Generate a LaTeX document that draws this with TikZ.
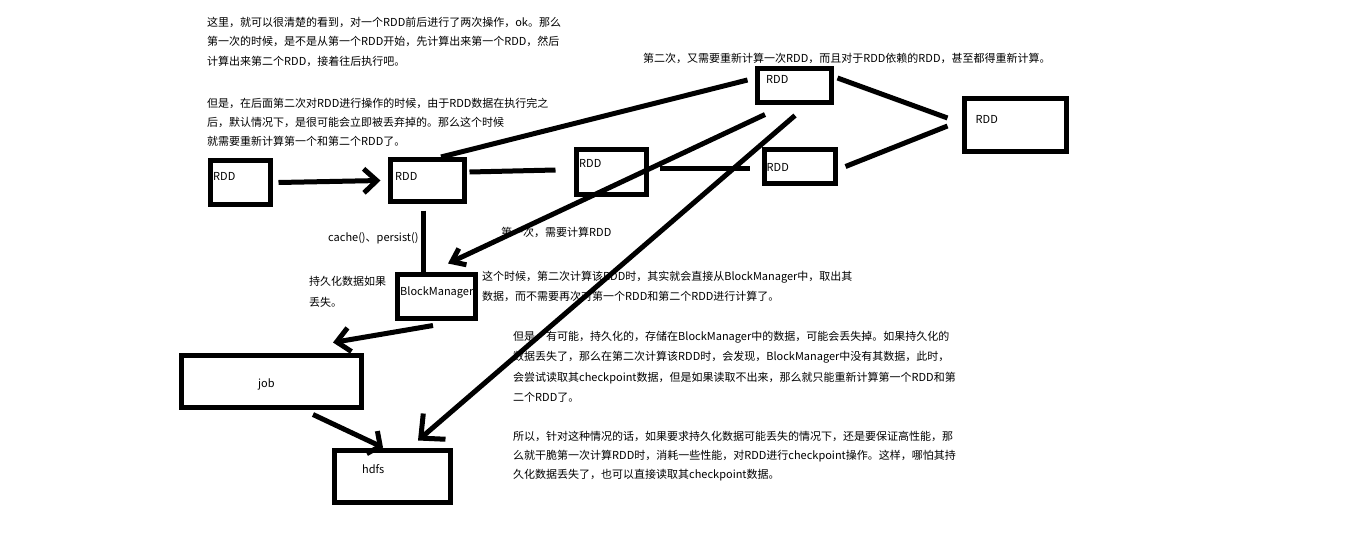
\documentclass[tikz,border=0pt]{standalone}
\usepackage{fontspec}
\newfontfamily\cjk{Noto Sans CJK SC}
\usetikzlibrary{arrows.meta,positioning}
\tikzset{
  box/.style={draw,line width=5pt,inner sep=0pt},
  lbl/.style={inner sep=0pt,anchor=base west,font=\cjk\fontsize{11}{20}\selectfont},
  note/.style={lbl,align=left},
  wire/.style={line width=5pt},
}
\begin{document}
\begin{tikzpicture}[x=1pt,y=-1pt]
\path[use as bounding box,fill=white] (0,0) rectangle (1360,543);
% boxes
\node[box,minimum width=60pt,minimum height=44pt] (rdd1) at (240.5,182.5) {};
\node[box,minimum width=74pt,minimum height=42pt] (rdd2) at (427.5,180.5) {};
\node[box,minimum width=70pt,minimum height=45pt] (rdd3) at (611.5,172) {};
\node[box,minimum width=74pt,minimum height=34pt] (rdd4) at (794.5,85.5) {};
\node[box,minimum width=102pt,minimum height=53pt] (rdd5) at (1015.5,125) {};
\node[box,minimum width=71pt,minimum height=34pt] (rdd6) at (800,166.5) {};
\node[box,minimum width=78pt,minimum height=44pt] (bm) at (436.5,296.5) {};
\node[box,minimum width=180pt,minimum height=52pt] (job) at (271.5,381.5) {};
\node[box,minimum width=116pt,minimum height=52pt] (hdfs) at (392.5,476.5) {};
\node[lbl] (rdd1t) at (213,180) {RDD};
\node[lbl] (rdd2t) at (395,180) {RDD};
\node[lbl] (rdd3t) at (579,167) {RDD};
\node[lbl] (rdd4t) at (766,83) {RDD};
\node[lbl] (rdd5t) at (975.5,123) {RDD};
\node[lbl] (rdd6t) at (766.5,171.5) {RDD};
\node[lbl] (bmt) at (400,295.5) {BlockManager};
\node[lbl] (jobt) at (258,387) {job};
\node[lbl] (hdfst) at (362,473.5) {hdfs};
% connectors
\draw[wire,-{Straight Barb[length=13pt,width=24pt]}] ([xshift=5.5pt]rdd1.east) -- ([xshift=-7.5pt]rdd2.west);
\draw[wire] ([xshift=13.5pt]rdd2.north) -- ([xshift=-7.5pt,yshift=5.5pt]rdd4.west);
\draw[wire] ([xshift=2.5pt,yshift=8.5pt]rdd2.east) -- ([xshift=-18.5pt,yshift=2pt]rdd3.west);
\draw[wire] ([xshift=10.5pt,yshift=4pt]rdd3.east) -- ([xshift=-12.5pt,yshift=-1.5pt]rdd6.west);
\draw[wire] ([xshift=3.5pt,yshift=7.5pt]rdd4.east) -- ([xshift=-14.5pt,yshift=7pt]rdd5.west);
\draw[wire] ([xshift=7.5pt]rdd6.east) -- ([xshift=-14.5pt,yshift=-1pt]rdd5.west);
\draw[wire,-{Straight Barb[length=12pt,width=18pt]}] ([xshift=-29.5pt,yshift=-9.5pt]rdd4.south) -- ([xshift=11.5pt,yshift=8.5pt]bm.north);
\draw[wire,-{Straight Barb[length=18pt,width=34pt]}] ([xshift=0.5pt,yshift=-10.5pt]rdd4.south) -- ([xshift=25.5pt,yshift=7.5pt]hdfs.north);
\draw[wire] ([xshift=-4.5pt,yshift=-6.5pt]rdd2.south) -- ([xshift=-13.5pt]bm.north);
\draw[wire,-{Straight Barb[length=13pt,width=24pt]}] ([xshift=-3.5pt,yshift=-4.5pt]bm.south) -- ([xshift=61.5pt,yshift=10.5pt]job.north);
\draw[wire,-{Straight Barb[length=9pt,width=25pt]}] ([xshift=41.5pt,yshift=-4.5pt]job.south) -- ([xshift=-9.5pt,yshift=0.5pt]hdfs.north);
% notes (placed at the baseline of their last line)
\node[note,font=\cjk\fontsize{11}{19.7}\selectfont] (n1) at (207,65.7) {这里，就可以很清楚的看到，对一个RDD前后进行了两次操作，ok。那么\\第一次的时候，是不是从第一个RDD开始，先计算出来第一个RDD，然后\\计算出来第二个RDD，接着往后执行吧。};
\node[note,font=\cjk\fontsize{11}{19.2}\selectfont] (n2) at (207,145.7) {但是，在后面第二次对RDD进行操作的时候，由于RDD数据在执行完之\\后，默认情况下，是很可能会立即被丢弃掉的。那么这个时候\\就需要重新计算第一个和第二个RDD了。};
\node[lbl] (n3) at (643,62.3) {第二次，又需要重新计算一次RDD，而且对于RDD依赖的RDD，甚至都得重新计算。};
\node[lbl] (n4) at (328,241) {cache()、persist()};
\node[lbl] (n5) at (501,236) {第一次，需要计算RDD};
\node[note,font=\cjk\fontsize{11}{21}\selectfont] (n6) at (309,306) {持久化数据如果\\丢失。};
\node[note] (n7) at (482,300) {这个时候，第二次计算该RDD时，其实就会直接从BlockManager中，取出其\\数据，而不需要再次对第一个RDD和第二个RDD进行计算了。};
\node[note,font=\cjk\fontsize{11}{20.5}\selectfont] (n8) at (513,401.5) {但是，有可能，持久化的，存储在BlockManager中的数据，可能会丢失掉。如果持久化的\\数据丢失了，那么在第二次计算该RDD时，会发现，BlockManager中没有其数据，此时，\\会尝试读取其checkpoint数据，但是如果读取不出来，那么就只能重新计算第一个RDD和第\\二个RDD了。};
\node[note,font=\cjk\fontsize{11}{19.2}\selectfont] (n9) at (513,478.4) {所以，针对这种情况的话，如果要求持久化数据可能丢失的情况下，还是要保证高性能，那\\么就干脆第一次计算RDD时，消耗一些性能，对RDD进行checkpoint操作。这样，哪怕其持\\久化数据丢失了，也可以直接读取其checkpoint数据。};
\end{tikzpicture}
\end{document}
